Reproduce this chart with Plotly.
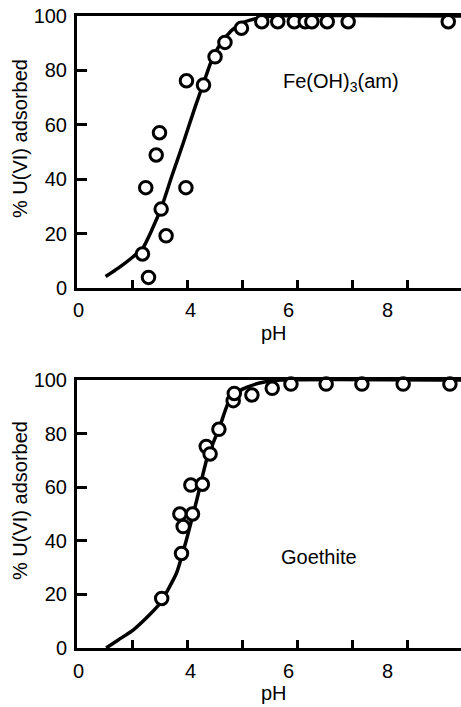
import plotly.graph_objects as go

# ---- data ----
fe_ph = [3.19, 3.30, 3.25, 3.44, 3.50, 3.53, 3.62, 3.98, 3.99, 4.30, 4.51, 4.69, 4.99,
         5.36, 5.65, 5.95, 6.15, 6.27, 6.55, 6.93, 8.75]
fe_ads = [12.5, 3.9, 36.9, 48.9, 57.1, 29.0, 19.2, 36.9, 76.2, 74.6, 85.0, 90.3, 95.5,
          97.9, 97.9, 97.9, 97.9, 97.9, 97.9, 97.9, 97.9]
fe_curve_ph = [2.52, 2.75, 3.02, 3.20, 3.36, 3.54, 3.72, 3.93, 4.15, 4.30, 4.45, 4.60,
               4.80, 5.00, 5.30, 5.60, 9.0]
fe_curve = [4.2, 7.3, 11.5, 14.8, 21.3, 29.9, 40.9, 53.2, 66.7, 75.3, 83.8, 89.5,
            94.5, 97.5, 99.3, 100, 100]

g_ph = [3.54, 3.90, 3.93, 3.87, 4.10, 4.07, 4.28, 4.35, 4.42, 4.58, 4.84, 4.86, 5.18,
        5.55, 5.89, 6.53, 7.18, 7.93, 8.78]
g_ads = [18.5, 35.3, 45.3, 50.0, 50.0, 60.8, 61.1, 75.2, 72.4, 81.6, 92.3, 95.0, 94.4,
         96.9, 98.5, 98.5, 98.5, 98.5, 98.5]
g_curve_ph = [2.53, 2.75, 3.02, 3.25, 3.51, 3.81, 3.99, 4.18, 4.36, 4.60, 4.78, 5.00,
              5.30, 5.70, 9.0]
g_curve = [0, 3.0, 6.7, 11.0, 16.7, 28.0, 40.4, 55.4, 70.4, 82.9, 92.9, 96.5, 98.8,
           100, 100]

x_label_pos = [2.02, 4.07, 5.85, 7.65]
x_label_text = ["0", "4", "6", "8"]
x_tick_marks = [3, 4, 5, 6, 7, 8]
y_ticks = [0, 20, 40, 60, 80, 100]

FONT = "Liberation Sans, Arial, sans-serif"
W, H = 461, 707
L = 77
FS = 20

fig = go.Figure()

line_style = dict(color="black", width=3.5, shape="spline", smoothing=0.5)
marker_style = dict(symbol="circle", size=12.5, color="white",
                    line=dict(color="black", width=3))

fig.add_trace(go.Scatter(x=fe_curve_ph, y=fe_curve, mode="lines", line=line_style,
                         xaxis="x", yaxis="y", showlegend=False, cliponaxis=False))
fig.add_trace(go.Scatter(x=fe_ph, y=fe_ads, mode="markers", marker=marker_style,
                         xaxis="x", yaxis="y", showlegend=False, cliponaxis=False))
fig.add_trace(go.Scatter(x=g_curve_ph, y=g_curve, mode="lines", line=line_style,
                         xaxis="x2", yaxis="y2", showlegend=False, cliponaxis=False))
fig.add_trace(go.Scatter(x=g_ph, y=g_ads, mode="markers", marker=marker_style,
                         xaxis="x2", yaxis="y2", showlegend=False, cliponaxis=False))

xrange = [2, 2 + (W - L) / 55.0]


def xaxis_cfg(anchor):
    return dict(
        range=xrange, anchor=anchor, domain=[0, 1], automargin=False,
        showline=True, linecolor="black", linewidth=3, mirror=True,
        showgrid=False, zeroline=False, showticklabels=False,
        tickmode="array", tickvals=x_tick_marks, ticks="inside", ticklen=8,
        tickwidth=2.5, tickcolor="black",
    )


def yaxis_cfg(anchor, dom):
    return dict(
        range=[0, 100], anchor=anchor, domain=dom, automargin=False,
        showline=True, linecolor="black", linewidth=3, mirror=False,
        showgrid=False, zeroline=False,
        tickmode="array", tickvals=y_ticks, ticks="inside", ticklen=10,
        tickwidth=2.5, tickcolor="black", ticklabelstandoff=3,
        tickfont=dict(family=FONT, size=FS, color="black"),
    )


fig.update_layout(
    width=W, height=H,
    margin=dict(l=L, r=0, t=0, b=0, autoexpand=False),
    paper_bgcolor="white", plot_bgcolor="white",
    xaxis=xaxis_cfg("y"),
    yaxis=yaxis_cfg("x", [1 - 288 / H, 1 - 16 / H]),
    xaxis2=xaxis_cfg("y2"),
    yaxis2=yaxis_cfg("x2", [1 - 648 / H, 1 - 380 / H]),
    font=dict(family=FONT, size=FS, color="black"),
)

ann_font = dict(family=FONT, size=FS, color="black")
c = dict(showarrow=False, font=ann_font, xanchor="center", yanchor="middle")
annotations = [
    dict(text="Fe(OH)<sub>3</sub>(am)", x=6.8, y=75.4, xref="x", yref="y", **c),
    dict(text="Goethite", x=6.4, y=34, xref="x2", yref="y2", **c),
    dict(text="% U(VI) adsorbed", x=(20 - L) / (W - L), y=1 - 139 / H,
         xref="paper", yref="paper", textangle=-90, **c),
    dict(text="% U(VI) adsorbed", x=(20 - L) / (W - L), y=1 - 501 / H,
         xref="paper", yref="paper", textangle=-90, **c),
    dict(text="pH", x=(274 - L) / (W - L), y=1 - 333 / H,
         xref="paper", yref="paper", **c),
    dict(text="pH", x=(274 - L) / (W - L), y=1 - 693 / H,
         xref="paper", yref="paper", **c),
]
# x tick labels, placed where the reference prints them
for xv, tx in zip(x_label_pos, x_label_text):
    annotations.append(dict(text=tx, x=xv, y=1 - 310 / H, xref="x", yref="paper", **c))
    annotations.append(dict(text=tx, x=xv, y=1 - 671 / H, xref="x2", yref="paper", **c))
fig.update_layout(annotations=annotations)

fig.write_html("out.html")
